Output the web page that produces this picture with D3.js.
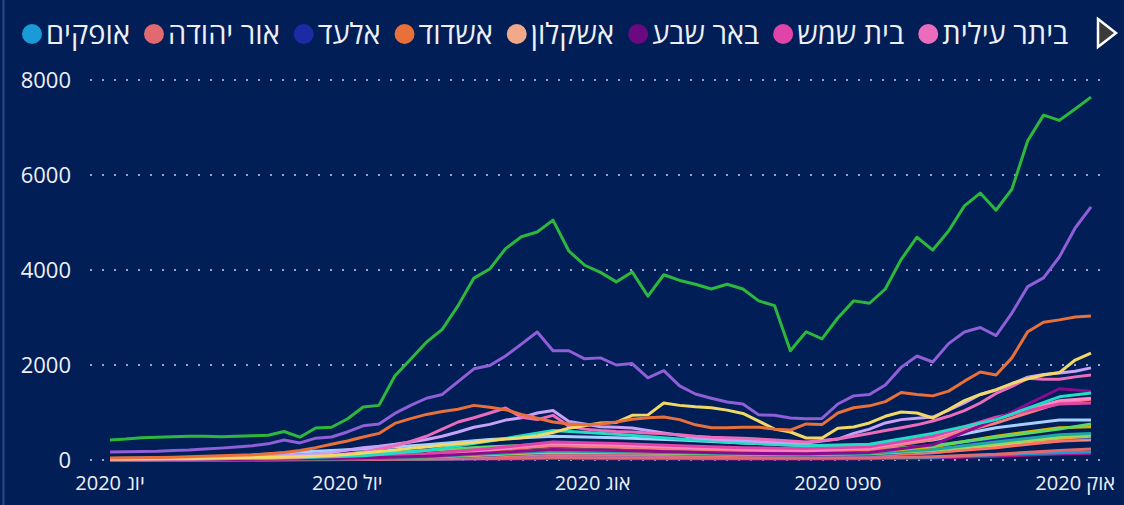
<!DOCTYPE html>
<html>
<head>
<meta charset="utf-8">
<script src="https://cdn.jsdelivr.net/npm/d3@7/dist/d3.min.js"></script>
<style>
  html, body { margin: 0; padding: 0; background: #011e56; }
  svg { display: block; font-family: "Open Sans", "Noto Sans", "DejaVu Sans", sans-serif; }
</style>
</head>
<body>
<svg id="chart" width="1124" height="505"></svg>
<script>
// legend (only the first 8 cities fit, the rest is behind the arrow)
var legendNames = ["אופקים", "אור יהודה", "אלעד", "אשדוד", "אשקלון", "באר שבע", "בית שמש", "ביתר עילית"];
var legendColors = ["#1a9ad6", "#e06a6f", "#1c2aa5", "#e8703a", "#f2a98a", "#6b0a80", "#e044a8", "#ec6cbc"];

var monthLabels = ["יונ 2020", "יול 2020", "אוג 2020", "ספט 2020", "אוק 2020"];
var yTicks = [0, 2000, 4000, 6000, 8000];

var startDate = new Date(2020, 5, 1);
var lastDay = 124;   // last point, days after startDate
var denseStep = 2;   // days between points of the big series
var sparseDays = [0, 8, 16, 24, 32, 40, 48, 56, 64, 72, 80, 88, 96, 104, 112, 120, 124];

// big series, one value every 2 days
var jerusalem = [420,440,470,480,490,500,500,490,500,510, 520,600,480,674,690,863,1116,1150,1770,2120,
    2480,2750,3250,3830,4020,4450,4700,4800,5050,4400, 4100,3950,3750,3960,3450,3900,3780,3700,3600,3700,
    3600,3350,3250,2300,2700,2550,2990,3350,3300,3600, 4220,4690,4420,4820,5350,5620,5260,5700,6720,7260,
    7150,7390,7640];
var bneiBrak = [170,175,180,185,200,210,230,250,275,300, 340,420,360,460,484,590,720,760,980,1150,
    1300,1380,1650,1920,1990,2190,2440,2695,2300,2300, 2130,2150,2000,2030,1730,1880,1560,1390,1300,1220,
    1180,950,940,884,870,875,1179,1350,1380,1580, 1950,2190,2063,2450,2695,2790,2620,3094,3650,3835,
    4273,4884,5330];
var ashdod = [40,45,50,55,60,70,80,90,100,110, 130,160,200,260,330,400,484,560,770,870,
    960,1020,1070,1150,1110,1060,960,880,800,760, 740,760,800,860,890,905,850,740,680,680,
    690,690,650,630,760,745,989,1100,1140,1230, 1420,1380,1350,1450,1660,1852,1789,2150,2700,2900,
    2950,3010,3030];
var modiinIllit = [20,20,25,25,30,30,35,40,45,50, 55,60,70,80,95,115,145,180,210,245,
    275,310,340,370,410,440,470,510,580,670, 720,780,790,940,950,1200,1150,1120,1100,1050,
    980,820,650,590,463,463,670,695,780,920, 1010,990,884,1060,1250,1380,1480,1610,1710,1790,
    1840,2105,2252];
var beitarIllit = [10,10,12,14,16,18,20,25,30,35, 40,50,60,75,95,130,170,230,300,390,
    500,650,800,890,990,1095,900,850,940,710, 650,620,600,590,570,550,530,500,480,470,
    460,440,420,400,380,410,440,500,560,620, 680,740,820,920,1040,1200,1400,1550,1720,1700,
    1700,1750,1790];
var telAviv = [30,32,35,40,45,50,55,60,70,80, 90,100,110,125,160,210,260,290,330,380,
    430,500,590,690,750,840,890,990,1040,810, 760,700,690,674,620,570,520,470,440,420,
    410,390,375,365,360,400,440,560,650,780, 850,880,905,1050,1200,1380,1470,1600,1745,1800,
    1830,1870,1940];

// small series, values at sparseDays
var haifa       = [15,20,30,45,90,200,400,620,540,440,360,300,330,560,850,1330,1410];
var beerSheva   = [5,8,12,20,40,80,150,220,200,170,140,130,160,320,850,1500,1450];
var rishon      = [20,40,80,170,230,320,430,500,470,420,360,300,300,420,680,840,840];
var petahTikva  = [30,40,55,80,120,200,280,330,300,260,220,190,210,300,480,650,760];
var netanya     = [5,8,12,20,40,90,160,220,200,170,150,140,170,280,500,680,700];
var holon       = [10,15,20,30,60,120,210,300,270,230,190,170,210,430,780,1200,1280];
var beitShemesh = [10,15,20,30,60,130,240,380,350,300,260,240,280,500,900,1180,1200];
var modiin      = [8,12,18,28,55,110,220,350,320,270,230,210,250,480,860,1250,1300];
var ashkelon    = [5,8,10,15,30,60,100,150,140,130,120,110,130,190,300,410,440];
var batYam      = [5,8,10,15,30,60,110,170,160,140,130,120,140,210,350,460,500];
var ramleh      = [4,6,8,12,22,45,85,130,120,105,95,95,110,160,260,400,460];
var orYehuda    = [3,4,5,8,12,20,35,55,50,45,40,40,45,70,120,200,230];
var ofakim      = [2,3,4,6,10,18,30,45,42,38,35,35,40,60,110,155,170];
var elad        = [5,8,10,15,30,70,140,220,200,160,130,110,130,260,420,500,520];
var lod         = [4,6,8,12,25,50,100,160,150,130,110,100,110,200,360,460,480];
var rahat       = [3,5,7,10,20,40,70,110,100,90,80,75,90,150,290,400,420];
var umElFahem   = [2,3,4,5,8,12,20,30,28,25,22,20,25,40,80,125,140];
var nazareth    = [5,8,12,18,35,70,130,190,170,150,130,120,140,220,380,530,560];
var kfarSaba    = [8,10,14,20,35,70,120,170,160,140,120,110,130,200,330,480,520];
var rehovot     = [6,8,10,15,28,55,100,150,140,125,110,105,120,180,300,420,450];

var denseDays = d3.range(0, lastDay + 1, denseStep);

var series = [
    { values: umElFahem,   days: sparseDays, color: "#b0108c" },
    { values: ofakim,      days: sparseDays, color: legendColors[0] },
    { values: orYehuda,    days: sparseDays, color: legendColors[1] },
    { values: rahat,       days: sparseDays, color: "#b06ab8" },
    { values: ashkelon,    days: sparseDays, color: legendColors[4] },
    { values: rehovot,     days: sparseDays, color: "#ffc080" },
    { values: ramleh,      days: sparseDays, color: "#ff7060" },
    { values: lod,         days: sparseDays, color: "#3355cc" },
    { values: batYam,      days: sparseDays, color: "#ff9a40" },
    { values: elad,        days: sparseDays, color: legendColors[2] },
    { values: kfarSaba,    days: sparseDays, color: "#9ad85a" },
    { values: nazareth,    days: sparseDays, color: "#1fa8a0" },
    { values: netanya,     days: sparseDays, color: "#d9b300" },
    { values: petahTikva,  days: sparseDays, color: "#5cd86a" },
    { values: rishon,      days: sparseDays, color: "#a8d0ff" },
    { values: holon,       days: sparseDays, color: "#f47c7c" },
    { values: modiin,      days: sparseDays, color: "#ff88c8" },
    { values: beitShemesh, days: sparseDays, color: legendColors[6] },
    { values: beerSheva,   days: sparseDays, color: "#8a0a90" },
    { values: haifa,       days: sparseDays, color: "#22dcc8" },
    { values: telAviv,     days: denseDays,  color: "#c8a2f8" },
    { values: beitarIllit, days: denseDays,  color: legendColors[7] },
    { values: modiinIllit, days: denseDays,  color: "#f2d866" },
    { values: ashdod,      days: denseDays,  color: legendColors[3] },
    { values: bneiBrak,    days: denseDays,  color: "#8e5fd6" },
    { values: jerusalem,   days: denseDays,  color: "#2db83d" }
];

var svg = d3.select("#chart");

svg.append("rect").attr("width", 1124).attr("height", 505).attr("fill", "#011e56");
svg.append("line")
    .attr("x1", 3.5).attr("x2", 3.5).attr("y1", 0).attr("y2", 505)
    .attr("stroke", "#2a4888").attr("stroke-width", 2);

var x = d3.scaleTime()
    .domain([startDate, d3.timeDay.offset(startDate, lastDay)])
    .range([110, 1091]);
var y = d3.scaleLinear().domain([0, 8000]).range([460, 80]);

// dotted grid
svg.append("g").selectAll("line")
    .data(yTicks)
    .enter().append("line")
    .attr("x1", 90).attr("x2", 1106)
    .attr("y1", function (d) { return y(d); })
    .attr("y2", function (d) { return y(d); })
    .attr("stroke", "#97a3c6")
    .attr("stroke-width", 2)
    .attr("stroke-dasharray", "2 10");

svg.append("g").selectAll("text")
    .data(yTicks)
    .enter().append("text")
    .attr("x", 71)
    .attr("y", function (d) { return y(d); })
    .attr("dy", "0.35em")
    .attr("text-anchor", "end")
    .attr("font-size", 22)
    .attr("fill", "#eef0f6")
    .text(function (d) { return d; });

var months = d3.timeMonth.range(new Date(2020, 5, 1), new Date(2020, 9, 2));
svg.append("g").selectAll("text")
    .data(months)
    .enter().append("text")
    .attr("x", function (d) { return x(d); })
    .attr("y", 490)
    .attr("text-anchor", "middle")
    .attr("font-size", 20)
    .attr("fill", "#eef0f6")
    .text(function (d, i) { return monthLabels[i]; });

var line = d3.line()
    .x(function (d) { return x(d.date); })
    .y(function (d) { return y(d.value); });

svg.append("g").selectAll("path")
    .data(series)
    .enter().append("path")
    .attr("fill", "none")
    .attr("stroke", function (d) { return d.color; })
    .attr("stroke-width", 3)
    .attr("stroke-linejoin", "round")
    .attr("d", function (s) {
        return line(s.values.map(function (v, i) {
            return { date: d3.timeDay.offset(startDate, s.days[i]), value: v };
        }));
    });

// legend, laid out left to right
var legend = svg.append("g");
var lx = 32;
legendNames.forEach(function (name, i) {
    legend.append("circle")
        .attr("cx", lx).attr("cy", 34).attr("r", 10)
        .attr("fill", legendColors[i]);
    var t = legend.append("text")
        .attr("x", lx + 14)
        .attr("y", 34)
        .attr("dy", "0.35em")
        .attr("font-size", 29)
        .attr("fill", "#eef0f6")
        .text(name);
    lx = lx + 14 + t.node().getComputedTextLength() + 24;
});

svg.append("polygon")
    .attr("points", "1098,19 1116,33 1098,47")
    .attr("fill", "#3a3a3a")
    .attr("stroke", "#ffffff")
    .attr("stroke-width", 2.5)
    .attr("stroke-linejoin", "miter");
</script>
</body>
</html>
